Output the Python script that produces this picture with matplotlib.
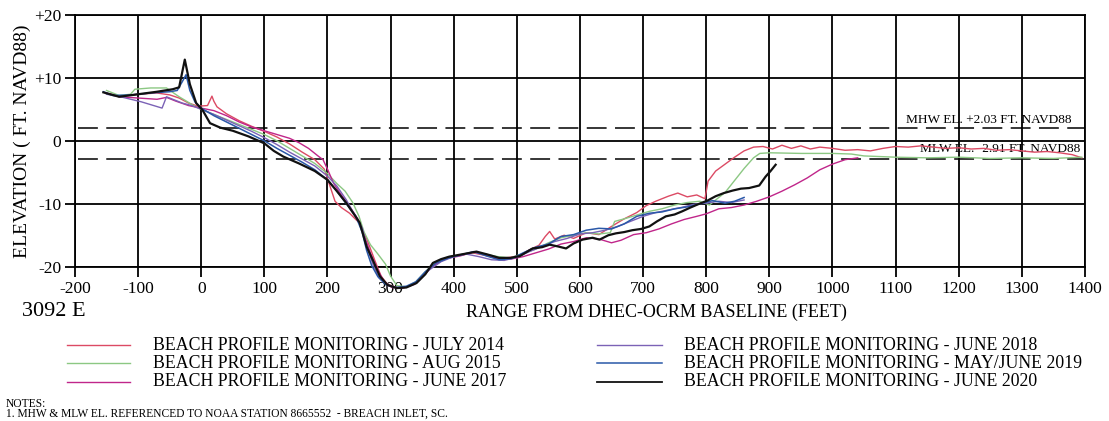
import matplotlib
matplotlib.use("Agg")
import matplotlib.pyplot as plt
from matplotlib.lines import Line2D

plt.rcParams['font.family'] = ['Liberation Serif', 'DejaVu Serif']
plt.rcParams['axes.unicode_minus'] = False

# survey profiles: (range ft, elevation ft)
x_2014 = [-152, -130, -100, -70, -50, -35, -20, -5, 10, 17, 20, 25, 40, 60, 80, 100, 120, 140, 160, 180,
          195, 205, 212, 222, 235, 250, 262, 275, 285, 295, 310, 325, 340, 355, 370, 390, 410, 430, 450, 470,
          490, 505, 520, 535, 545, 552, 560, 575, 590, 610, 630, 650, 670, 690, 705, 720, 740, 755, 770, 785,
          798, 803, 815, 830, 845, 860, 875, 890, 905, 920, 935, 950, 965, 980, 1000, 1020, 1040, 1060, 1080,
          1100, 1120, 1140, 1160, 1180, 1200, 1220, 1240, 1260, 1280, 1300, 1320, 1340, 1360, 1380, 1395]
y_2014 = [7.6, 7.1, 7.4, 7.6, 7.3, 6.8, 6.0, 5.5, 5.6, 7.1, 6.3, 5.4, 4.3, 3.2, 2.3, 1.5, 0.6, -0.5, -1.8, -3.0,
          -4.5, -7.5, -9.6, -10.6, -11.5, -13.0, -15.5, -19.0, -21.5, -22.8, -23.3, -23.2, -22.6, -21.0, -19.6,
          -18.6, -18.2, -17.8, -18.2, -18.7, -18.5, -18.2, -17.3, -16.6, -15.2, -14.4, -15.6, -15.0, -15.5, -14.6,
          -14.9, -13.6, -12.4, -11.4, -10.3, -9.6, -8.8, -8.3, -8.9, -8.6, -9.2, -6.4, -4.8, -3.7, -2.6, -1.6,
          -1.0, -0.9, -1.3, -0.7, -1.2, -0.8, -1.3, -1.0, -1.2, -1.5, -1.4, -1.6, -1.2, -0.9, -1.0, -0.8, -1.0,
          -1.2, -1.1, -1.3, -1.2, -1.5, -1.4, -1.6, -1.8, -1.7, -1.9, -2.2, -2.7]

x_2015 = [-150, -130, -112, -105, -80, -55, -48, -35, -25, -12, 0, 20, 40, 60, 80, 100, 120, 140, 160, 180,
          200, 215, 228, 240, 250, 258, 268, 280, 292, 300, 310, 325, 340, 355, 370, 390, 410, 430, 450, 470,
          490, 510, 530, 550, 570, 590, 610, 630, 648, 655, 670, 690, 710, 730, 750, 770, 790, 805, 815, 830,
          845, 860, 875, 885, 900, 950, 1000, 1030, 1050, 1100, 1150, 1200, 1250, 1300, 1350, 1395]
y_2015 = [8.0, 7.2, 7.4, 8.2, 8.4, 8.4, 7.9, 7.0, 6.4, 5.6, 5.0, 4.2, 3.4, 2.6, 1.8, 1.0, 0.0, -1.2, -2.4, -3.6,
          -5.2, -6.8, -8.0, -9.8, -12.0, -14.5, -16.5, -18.0, -19.6, -21.5, -23.0, -23.2, -22.4, -20.8, -19.4,
          -18.5, -18.1, -17.7, -18.0, -18.4, -18.6, -17.9, -17.2, -16.2, -15.4, -15.0, -14.6, -14.8, -14.6,
          -12.8, -12.4, -11.8, -11.2, -10.8, -10.2, -9.8, -9.6, -10.2, -9.4, -8.2, -6.3, -4.4, -2.7, -2.0, -1.9,
          -2.0, -2.0, -2.1, -2.4, -2.6, -2.7, -2.6, -2.8, -2.7, -2.8, -2.6]

x_2017 = [-150, -130, -100, -70, -55, -40, -20, 0, 20, 40, 60, 80, 100, 120, 140, 155, 170, 185, 193, 200,
          210, 222, 235, 248, 258, 268, 280, 290, 302, 320, 338, 352, 368, 388, 410, 430, 450, 470, 490, 510,
          530, 550, 570, 590, 610, 630, 650, 665, 685, 705, 725, 745, 765, 785, 800, 820, 840, 860, 880, 900,
          920, 940, 960, 980, 1000, 1020, 1040]
y_2017 = [7.6, 7.0, 6.8, 6.6, 6.9, 6.3, 5.6, 5.2, 4.8, 4.0, 3.0, 2.2, 1.6, 1.0, 0.4, -0.3, -1.2, -2.4, -3.0, -4.5,
          -6.8, -8.6, -10.4, -12.4, -15.0, -17.8, -20.6, -22.4, -23.3, -23.4, -22.8, -21.4, -19.8, -18.7, -18.3,
          -17.7, -18.0, -18.6, -18.8, -18.4, -17.8, -17.2, -16.4, -16.0, -15.4, -15.6, -16.2, -15.8, -14.9,
          -14.6, -14.0, -13.2, -12.5, -12.0, -11.6, -10.8, -10.6, -10.2, -9.6, -8.9, -8.0, -7.0, -5.9, -4.6,
          -3.7, -3.0, -2.7]

x_2018 = [-150, -128, -95, -62, -55, -45, -30, -15, 0, 20, 40, 60, 80, 100, 120, 140, 160, 180, 200, 215,
          230, 242, 255, 263, 272, 282, 295, 310, 330, 345, 360, 380, 400, 420, 440, 460, 480, 500, 520, 540,
          560, 580, 600, 620, 640, 660, 680, 700, 720, 740, 760, 780, 800, 820, 840, 860]
y_2018 = [7.4, 7.0, 6.2, 5.2, 7.0, 6.6, 6.0, 5.6, 5.0, 4.2, 3.3, 2.4, 1.5, 0.5, -0.6, -1.8, -2.9, -4.0, -5.6, -7.2,
          -9.4, -11.6, -13.8, -17.0, -19.6, -21.8, -23.0, -23.4, -23.1, -22.2, -20.6, -19.2, -18.4, -18.0, -18.4,
          -18.9, -19.0, -18.5, -17.6, -16.8, -16.0, -15.5, -14.8, -14.6, -14.2, -13.6, -12.8, -12.0, -11.4,
          -11.0, -10.6, -10.1, -9.9, -9.6, -9.8, -9.4]

x_2019 = [-155, -140, -110, -80, -50, -38, -30, -24, -18, -10, 0, 20, 40, 60, 80, 100, 120, 140, 160, 180,
          200, 215, 230, 245, 255, 262, 270, 280, 292, 308, 325, 340, 355, 372, 392, 412, 432, 452, 472, 492,
          510, 530, 550, 570, 590, 610, 630, 650, 670, 690, 710, 730, 750, 770, 790, 810, 830, 845, 860]
y_2019 = [7.8, 7.2, 7.3, 7.6, 7.8, 8.0, 9.4, 10.5, 8.0, 6.2, 5.2, 4.0, 3.0, 2.0, 1.0, 0.0, -1.2, -2.3, -3.4, -4.6,
          -6.2, -8.0, -10.0, -12.0, -14.5, -17.4, -19.8, -21.6, -22.8, -23.3, -23.1, -22.4, -20.8, -19.4, -18.6,
          -18.1, -17.6, -18.3, -18.9, -18.7, -17.8, -16.9, -16.4, -15.2, -14.9, -14.2, -13.9, -14.0, -13.2,
          -12.0, -11.5, -11.3, -10.8, -10.5, -10.0, -9.5, -9.9, -9.6, -9.0]

x_2020 = [-155, -130, -100, -70, -45, -35, -26, -18, -8, 2, 14, 30, 50, 75, 100, 115, 130, 155, 180, 200,
          215, 230, 243, 251, 262, 272, 283, 295, 310, 325, 341, 355, 367, 380, 393, 415, 436, 455, 472, 490,
          505, 525, 540, 552, 566, 578, 590, 604, 620, 631, 645, 657, 670, 683, 697, 710, 722, 736, 750, 762,
          775, 789, 802, 815, 828, 842, 855, 868, 884, 894, 902, 910]
y_2020 = [7.7, 7.0, 7.4, 7.8, 8.2, 8.5, 12.9, 9.0, 6.0, 4.9, 2.8, 2.1, 1.6, 0.7, -0.4, -1.6, -2.5, -3.6, -4.8,
          -6.2, -8.0, -9.9, -11.8, -13.0, -16.8, -19.0, -21.5, -22.9, -23.4, -23.3, -22.6, -21.2, -19.4, -18.8,
          -18.4, -18.0, -17.6, -18.1, -18.6, -18.6, -18.3, -17.1, -16.9, -16.5, -16.8, -17.1, -16.3, -15.7,
          -15.4, -15.7, -15.0, -14.7, -14.5, -14.2, -14.0, -13.6, -12.8, -12.0, -11.7, -11.2, -10.6, -10.0,
          -9.5, -8.8, -8.3, -7.9, -7.6, -7.5, -7.1, -5.7, -4.8, -3.8]

surveys = ['BEACH PROFILE MONITORING - JULY 2014', 'BEACH PROFILE MONITORING - AUG 2015',
           'BEACH PROFILE MONITORING - JUNE 2017', 'BEACH PROFILE MONITORING - JUNE 2018',
           'BEACH PROFILE MONITORING - MAY/JUNE 2019', 'BEACH PROFILE MONITORING - JUNE 2020']
colors = ['#dc4a64', '#8cc883', '#c0268a', '#7b62b6', '#2a58a8', '#111111']
widths = [1.0, 1.0, 1.0, 1.0, 1.1, 1.6]
profiles = [(x_2014, y_2014), (x_2015, y_2015), (x_2017, y_2017),
            (x_2018, y_2018), (x_2019, y_2019), (x_2020, y_2020)]

mhw, mlw = 2.03, -2.91
x_ticks = list(range(-200, 1401, 100))
y_ticks = [20, 10, 0, -10, -20]
y_tick_labels = ['+20', '+10', '0', '-10', '-20']

fig = plt.figure(figsize=(11.09, 4.21), dpi=100)
ax = fig.add_axes([0.0676, 0.3665, 0.9107, 0.598])

ax.set_xlim(-200, 1400)
ax.set_ylim(-20, 20)
ax.set_xticks(x_ticks)
ax.set_xticklabels([str(v) for v in x_ticks])
ax.set_yticks(y_ticks)
ax.set_yticklabels(y_tick_labels)
ax.tick_params(direction='out', length=7, width=1.3, color='black', labelsize=12.5, pad=3)
ax.grid(True, color='black', linewidth=1.3)
ax.set_axisbelow(True)
for s in ax.spines.values():
    s.set_linewidth(1.3)

# tidal datums
ax.plot([-195, 1400], [mhw, mhw], color='black', lw=1.1, dashes=(13, 5.5))
ax.plot([-195, 1400], [mlw, mlw], color='black', lw=1.1, dashes=(13, 5.5))
ax.text(1378, mhw + 0.4, 'MHW EL. +%.2f FT. NAVD88' % mhw, ha='right', va='bottom', fontsize=9.6)
ax.text(1393, mlw + 0.6, 'MLW EL. %.2f FT. NAVD88' % mlw, ha='right', va='bottom', fontsize=9.6)

for (xs, ys), c, w in zip(profiles, colors, widths):
    ax.plot(xs, ys, color=c, lw=w, clip_on=False, zorder=3)

ax.set_ylabel('ELEVATION ( FT. NAVD88)', fontsize=14, labelpad=2)
fig.text(0.592, 0.258, 'RANGE FROM DHEC-OCRM BASELINE (FEET)', ha='center', va='center', fontsize=13)
fig.text(0.02, 0.26, '3092 E', ha='left', va='center', fontsize=16)

# legend in two columns
rows = [345, 363, 382]
for i, (lab, c, w) in enumerate(zip(surveys, colors, widths)):
    col = i // 3
    yf = 1 - rows[i % 3] / 421
    x0, x1, xt = [(67, 130, 153), (597, 662, 684)][col]
    fig.add_artist(Line2D([x0 / 1109, x1 / 1109], [yf, yf], color=c, lw=min(w, 1.3),
                          transform=fig.transFigure))
    fig.text(xt / 1109, yf, lab, ha='left', va='center', fontsize=12.8)

fig.text(0.005, 1 - 404 / 421, 'NOTES:', fontsize=8.3, va='center')
fig.text(0.005, 1 - 414 / 421,
         '1. MHW & MLW EL. REFERENCED TO NOAA STATION 8665552  - BREACH INLET, SC.',
         fontsize=8.3, va='center')

fig.savefig('out.png', dpi=100, facecolor='white')
